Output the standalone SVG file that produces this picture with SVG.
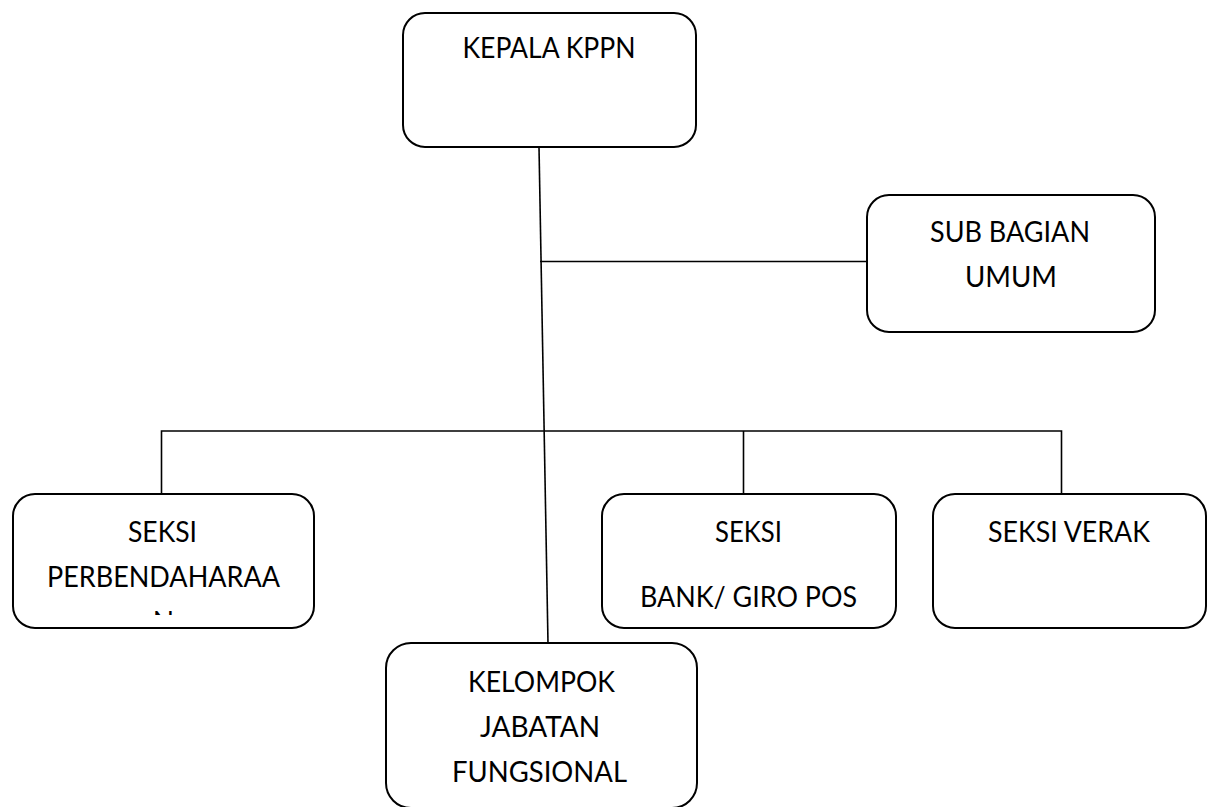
<svg xmlns="http://www.w3.org/2000/svg" width="1213" height="807" viewBox="0 0 1213 807">
<style>
.box{fill:#fff;stroke:#000;stroke-width:2}
.ln{fill:none;stroke:#000;stroke-width:1.6}
text{font-family:Lato,"Open Sans","Liberation Sans",sans-serif;font-size:28px;fill:#000;text-anchor:middle}
</style>
<defs>
<clipPath id="clipN"><rect x="13" y="494" width="301" height="121"/></clipPath>
</defs>
<rect width="1213" height="807" fill="#fff"/>
<g id="connectors">
<line class="ln" x1="539" y1="147" x2="548" y2="643"/>
<line class="ln" x1="540" y1="261.5" x2="867" y2="261.5"/>
<polyline class="ln" points="161.5,494 161.5,431 1061.5,431 1061.5,494"/>
<line class="ln" x1="743.5" y1="431" x2="743.5" y2="494"/>
</g>
<g id="kepala">
<rect class="box" x="403" y="13" width="293" height="134" rx="22"/>
<text x="549" y="58" textLength="173" lengthAdjust="spacingAndGlyphs">KEPALA KPPN</text>
</g>
<g id="subbagian">
<rect class="box" x="867" y="195" width="288" height="137" rx="22"/>
<text x="1010" y="242" textLength="160" lengthAdjust="spacingAndGlyphs">SUB BAGIAN</text>
<text x="1011" y="287" textLength="92" lengthAdjust="spacingAndGlyphs">UMUM</text>
</g>
<g id="perbendaharaan">
<rect class="box" x="13" y="494" width="301" height="134" rx="22"/>
<text x="162.5" y="542" textLength="69" lengthAdjust="spacingAndGlyphs">SEKSI</text>
<text x="163.5" y="587" textLength="233" lengthAdjust="spacingAndGlyphs">PERBENDAHARAA</text>
<text x="163.5" y="632" clip-path="url(#clipN)">N</text>
</g>
<g id="bank">
<rect class="box" x="602" y="494" width="294" height="134" rx="22"/>
<text x="748.5" y="542" textLength="67" lengthAdjust="spacingAndGlyphs">SEKSI</text>
<text x="748.5" y="607" textLength="217" lengthAdjust="spacingAndGlyphs">BANK/ GIRO POS</text>
</g>
<g id="verak">
<rect class="box" x="933" y="494" width="273" height="134" rx="22"/>
<text x="1069" y="542" textLength="162" lengthAdjust="spacingAndGlyphs">SEKSI VERAK</text>
</g>
<g id="kelompok">
<rect class="box" x="386" y="643" width="311" height="165" rx="25"/>
<text x="541.5" y="692" textLength="147" lengthAdjust="spacingAndGlyphs">KELOMPOK</text>
<text x="540" y="737" textLength="120" lengthAdjust="spacingAndGlyphs">JABATAN</text>
<text x="539.5" y="782" textLength="175" lengthAdjust="spacingAndGlyphs">FUNGSIONAL</text>
</g>
</svg>
